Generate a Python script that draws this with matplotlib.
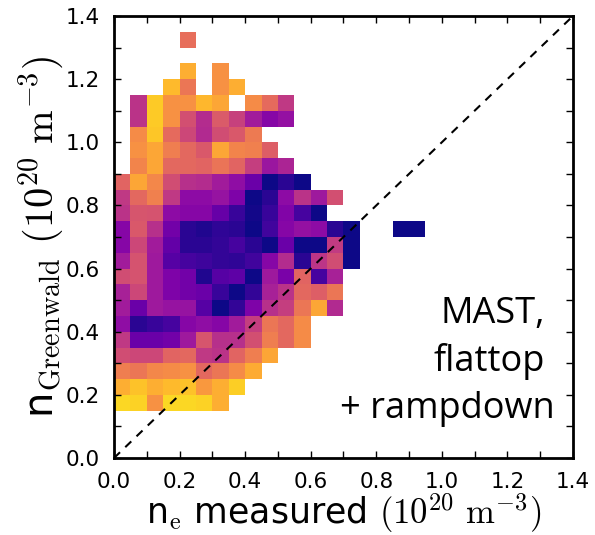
import numpy as np
import matplotlib
matplotlib.use("Agg")
import matplotlib.pyplot as plt

plt.rcParams['mathtext.fontset'] = 'cm'
plt.rcParams['font.family'] = ['DejaVu Sans']

n = None
# bin edges (10^20 m^-3), 0.05 wide bins on both axes
bin_width = 0.05
x_range = (0.0, 1.4)
y_range = (0.0, 1.4)

# normalised density of each populated bin (plasma colour scale 0..1)
# rows listed from y = 1.30-1.35 (top) down to y = 0.15-0.20 (bottom),
# columns from x = 0.00-0.05 to x = 0.90-0.95
row_y_start = [1.30, 1.25, 1.20, 1.15, 1.10, 1.05, 1.00, 0.95, 0.90, 0.85, 0.80, 0.75,
               0.70, 0.65, 0.60, 0.55, 0.50, 0.45, 0.40, 0.35, 0.30, 0.25, 0.20, 0.15]
density = [
    [n, n, n, n, .63, n, n, n, n, n, n, n, n, n, n, n, n, n, n],
    [n, n, n, n, n, n, n, n, n, n, n, n, n, n, n, n, n, n, n],
    [n, n, n, n, .82, n, .74, n, n, n, n, n, n, n, n, n, n, n, n],
    [n, n, n, .85, .66, n, .74, .82, n, n, n, n, n, n, n, n, n, n, n],
    [n, .43, .89, .74, .74, .84, .80, n, .72, .62, .45, n, n, n, n, n, n, n, n],
    [n, .43, .89, .74, .53, .41, .57, .48, .35, .27, .31, n, n, n, n, n, n, n, n],
    [n, .72, .88, .62, .50, .40, .52, .56, .67, n, n, n, n, n, n, n, n, n, n],
    [n, .74, .80, .68, .61, .56, .80, .70, .69, .58, n, n, n, n, n, n, n, n, n],
    [n, .70, .80, .61, .61, .60, .65, .60, .47, .33, .38, n, n, n, n, n, n, n, n],
    [.60, .80, .71, .52, .42, .41, .35, .30, .20, .00, .05, .00, n, n, n, n, n, n, n],
    [.45, .61, .69, .45, .29, .29, .32, .25, .00, .05, .29, .43, .34, .53, n, n, n, n, n],
    [.43, .55, .54, .29, .27, .27, .19, .08, .01, .08, .26, .11, .00, n, n, n, n, n, n],
    [.27, .56, .42, .22, .05, .03, .06, .05, .00, .10, .27, .31, .29, .05, .00, n, n, .00, .00],
    [.27, .50, .35, .18, .05, .05, .07, .11, .05, .00, .20, .00, .00, .46, .00, n, n, n, n],
    [.35, .54, .34, .15, .11, .09, .07, .06, .10, .27, .41, .05, .44, .52, .00, n, n, n, n],
    [.52, .54, .34, .25, .22, .03, .15, .17, .00, .34, .24, .60, .11, .37, n, n, n, n, n],
    [.37, .50, .34, .25, .22, .20, .08, .00, .07, .37, .43, .61, .58, .66, n, n, n, n, n],
    [.35, .20, .34, .32, .32, .15, .00, .07, .25, .42, .47, .66, .80, .40, n, n, n, n, n],
    [.30, .05, .08, .11, .27, .30, .27, .35, .47, .66, .61, .72, n, n, n, n, n, n, n],
    [.45, .20, .20, .22, .34, .55, .42, .42, .53, .68, .61, .72, n, n, n, n, n, n, n],
    [.52, .50, .50, .60, .61, .45, .43, .60, .68, .80, n, n, n, n, n, n, n, n, n],
    [.68, .66, .71, .72, .74, .61, .66, .72, .81, n, n, n, n, n, n, n, n, n, n],
    [.82, .87, .82, .85, .87, .76, .82, .90, n, n, n, n, n, n, n, n, n, n, n],
    [.92, .91, .74, .92, .92, .91, .82, n, n, n, n, n, n, n, n, n, n, n, n],
]

x_ticks = [0.0, 0.2, 0.4, 0.6, 0.8, 1.0, 1.2, 1.4]
y_ticks = [0.0, 0.2, 0.4, 0.6, 0.8, 1.0, 1.2, 1.4]
label_lines = ["MAST,", "flattop", "+ rampdown"]

# build the grid
nx = int(round((x_range[1] - x_range[0]) / bin_width))
ny = int(round((y_range[1] - y_range[0]) / bin_width))
x_edges = np.linspace(x_range[0], x_range[1], nx + 1)
y_edges = np.linspace(y_range[0], y_range[1], ny + 1)
Z = np.full((ny, nx), np.nan)
for ys, row in zip(row_y_start, density):
    j = int(round((ys - y_range[0]) / bin_width))
    for i, v in enumerate(row):
        if v is not None:
            Z[j, i] = v
Zm = np.ma.masked_invalid(Z)

fig = plt.figure(figsize=(5.95, 5.35), dpi=100)
ax = fig.add_axes([0.1916, 0.1439, 0.7714, 0.8262])
ax.pcolormesh(x_edges, y_edges, Zm, cmap='plasma', vmin=0, vmax=1,
              shading='flat', edgecolors='none', antialiased=False)
ax.plot(x_range, y_range, color='black', linestyle=(0, (4, 3.5)), linewidth=1.5)

ax.set_xlim(*x_range)
ax.set_ylim(*y_range)
ax.set_xticks(x_ticks)
ax.set_yticks(y_ticks)
ax.set_xticks(np.arange(0.1, 1.4, 0.2), minor=True)
ax.set_yticks(np.arange(0.1, 1.4, 0.2), minor=True)
ax.set_xticklabels([f"{t:.1f}" for t in x_ticks])
ax.set_yticklabels([f"{t:.1f}" for t in y_ticks])
ax.tick_params(which='both', direction='in', top=True, right=True,
               length=5, width=1, labelsize=15.5, pad=10)
for s in ax.spines.values():
    s.set_linewidth(2)

ax.set_xlabel(r"n$_\mathrm{e}$ measured $(10^{20}\ \mathrm{m}^{-3})$", fontsize=25)
ax.xaxis.set_label_coords(0.5, -0.076)
ax.set_ylabel(r"n$_\mathrm{Greenwald}$ $(10^{20}\ \mathrm{m}^{-3})$", fontsize=29, labelpad=0)

txt_x = [1.314, 1.314, 1.345]
txt_y = [0.428, 0.276, 0.127]
for t, tx, ty in zip(label_lines, txt_x, txt_y):
    ax.text(tx, ty, t, ha='right', va='baseline', fontsize=26,
            family=['Open Sans', 'DejaVu Sans'], color='black')

fig.savefig("out.png", dpi=100)
